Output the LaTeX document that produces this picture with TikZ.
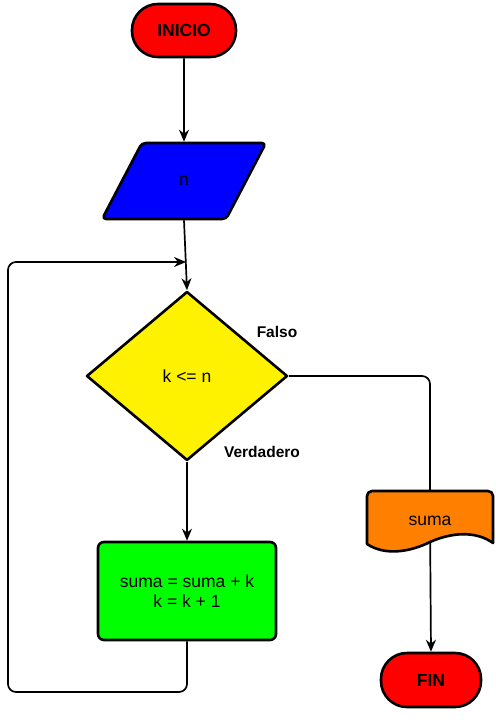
\documentclass[tikz,border=0pt]{standalone}
\usepackage{fontspec}
\setmainfont{Liberation Sans}
\usetikzlibrary{shapes.geometric,arrows.meta,backgrounds}
\definecolor{docorange}{HTML}{FF8000}
\tikzset{
  box/.style={draw,line width=2.6pt,line join=round,align=center,inner sep=0pt,
    font=\fontsize{17.5}{20}\selectfont},
  term/.style={box,fill=red,rounded corners=26pt,minimum width=104pt,minimum height=53pt,
    font=\fontsize{17.5}{20}\selectfont\bfseries},
  flow/.style={line width=1.7pt,-{Stealth[length=12pt,width=10pt,inset=4pt]}},
  tag/.style={font=\fontsize{15.5}{18}\selectfont\bfseries}
}
\begin{document}
\begin{tikzpicture}[x=1pt,y=-1pt]
  \useasboundingbox (0,0) rectangle (495,722);
  % shapes
  \node[term] (inicio) at (184,30.5) {INICIO};
  \node[box,trapezium,trapezium left angle=64,trapezium right angle=116,
    trapezium stretches=true,minimum width=164pt,minimum height=76pt,
    fill=blue,rounded corners=4pt] (entrada) at (184,181) {n};
  \node[box,diamond,fill=yellow,minimum width=201pt,minimum height=169pt,
    aspect=1.19] (cond) at (187,376) {k <= n};
  \node[box,fill=green,rounded corners=6pt,minimum width=178pt,minimum height=98pt]
    (cuerpo) at (187,591) {suma = suma + k\\k = k + 1};
  \node[font=\fontsize{17.5}{20}\selectfont,minimum width=126pt,minimum height=58pt,
    inner sep=0pt] (suma) at (430,521) {suma};
  \node[term,minimum width=100pt,minimum height=54pt] (fin) at (431,680) {FIN};
  % labels
  \node[tag] (falso) at (277,332) {Falso};
  \node[tag] (verdadero) at (262,452) {Verdadero};
  \coordinate (union) at (186,262);
  \coordinate (vuelta) at (8,692);
  % connectors
  \begin{pgfonlayer}{background}
    \draw[flow] (inicio) -- (entrada);
    \draw[flow] (entrada.south) -- (cond.north);
    \draw[flow] (cond.south) -- (cuerpo.north);
    \draw[flow,rounded corners=8pt] (cuerpo.south) |- (vuelta) |- (union);
    \draw[line width=1.7pt,rounded corners=8pt] (cond.east) -| (suma.north);
    \draw[flow] (suma.center) -- (fin.north);
    % document shape
    \draw[line width=2.6pt,line join=round,fill=docorange]
      (367,544) [rounded corners=5pt] -- (367,491) -- (493,491) [sharp corners] -- (493,543)
      .. controls (475,530) and (450,533) .. (430,542)
      .. controls (410,552) and (385,556) .. (367,544) -- cycle;
  \end{pgfonlayer}
\end{tikzpicture}
\end{document}
